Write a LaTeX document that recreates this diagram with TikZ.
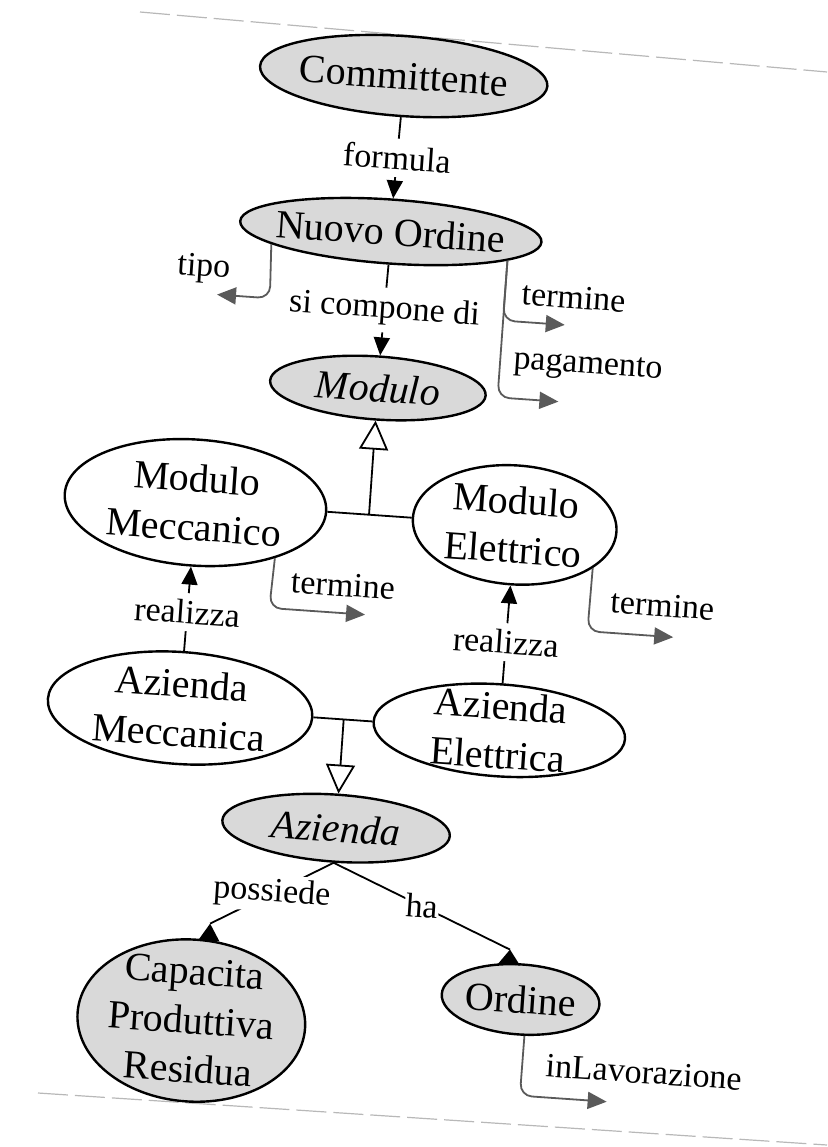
\documentclass[tikz,border=0pt]{standalone}
\usepackage{fontspec}
\setmainfont{Liberation Serif}
\usetikzlibrary{shapes.geometric, arrows.meta, calc}
\definecolor{conceptgrey}{HTML}{D9D9D9}
\definecolor{linkgrey}{HTML}{5A5A5A}
\definecolor{edgegrey}{HTML}{B8B8B8}
\begin{document}
\begin{tikzpicture}[x=1pt, y=-1pt,
  ntext/.style={font=\fontsize{40}{49}\selectfont, align=center, inner sep=0pt},
  concept/.style={ellipse, draw=black, line width=2.4pt, fill=conceptgrey, inner sep=0pt},
  plain/.style={concept, fill=white},
  dims/.style 2 args={minimum width=#1pt, minimum height=#2pt},
  ctext/.style={label={[ntext]center:#1}},
  link/.style={draw=black, line width=1.8pt},
  rel/.style={link, -{Triangle[width=16pt,length=18pt]}},
  isa/.style={link, -{Triangle[width=29pt,length=29pt,fill=white]}},
  attr/.style={draw=linkgrey, line width=1.8pt, rounded corners=12pt,
    -{Triangle[width=17pt,length=19pt,color=linkgrey]}},
  rlabel/.style={font=\fontsize{34}{40}\selectfont, fill=white, inner sep=7pt},
  alabel/.style={font=\fontsize{34}{40}\selectfont, inner sep=0pt},
  pageedge/.style={draw=edgegrey, line width=1.2pt, dash pattern=on 30pt off 7pt}
]
\useasboundingbox (0,0) rectangle (827,1147);

% edges of the sheet
\draw[pageedge] (140,12) -- (827,72);
\draw[pageedge] (38,1093) -- (827,1145);

\begin{scope}[rotate around={-4:(414,574)}, transform shape]
  % concepts
  \node[concept, dims={288}{80}, ctext={Committente}] (com) at (369,78) {};
  \node[concept, dims={302}{64}, ctext={Nuovo Ordine}] (nuovo) at (367,234) {};
  \node[concept, dims={216}{63}, ctext={\itshape Modulo}] (modulo) at (365,391) {};
  \node[plain, dims={262}{126}, ctext={Modulo\\Meccanico}] (mm) at (191,518) {};
  \node[plain, dims={204}{119}, ctext={Modulo\\Elettrico}] (me) at (511,518) {};
  \node[plain, dims={265}{112}, ctext={Azienda\\Meccanica}] (am) at (190,724) {};
  \node[plain, dims={252}{92}, ctext={Azienda\\Elettrica}] (ae) at (510,724) {};
  \node[concept, dims={228}{67}, ctext={\itshape Azienda}] (az) at (354,833) {};
  \node[concept, dims={228}{162}, ctext={Capacita\\Produttiva\\Residua}] (cpr) at (223,1035) {};
  \node[concept, dims={158}{70}, ctext={Ordine}] (ord) at (550,991) {};

  % relations
  \draw[rel] (com.south) -- node[rlabel] {formula} (nuovo.north);
  \draw[rel] (nuovo.south) -- node[rlabel] {si compone di} (modulo.north);
  \draw[rel] (am.north) -- node[rlabel, pos=0.46] {realizza} (mm.south);
  \draw[rel] (ae.north) -- node[rlabel, pos=0.42] {realizza} (me.south);

  % specialisation
  \coordinate (jmod) at (365,518);
  \draw[link] (mm.east) -- (me.west);
  \draw[isa] (jmod) -- (modulo.south);
  \coordinate (jaz) at (354,724);
  \draw[link] (am.east) -- (ae.west);
  \draw[isa] (jaz) -- (az.north);

  % possiede / ha
  \coordinate (posend) at (235,937);
  \draw[link] (az.south) -- node[rlabel, inner sep=3pt] {possiede} (posend);
  \fill[black] (posend) -- ++(-10.5,17) -- ++(21,0) -- cycle;
  \coordinate (haend) at (536,942);
  \draw[link] (az.south) -- node[rlabel, inner sep=1pt] {ha} (haend);
  \fill[black] (haend) -- ++(-11,15) -- ++(22,0) -- cycle;

  % attributes
  \node[alabel] (ltipo) at (183,284) {tipo};
  \coordinate (tipocorner) at (251,309);
  \coordinate (tipoend) at (198,309);
  \draw[attr] (nuovo.190) -- (tipocorner) -- (tipoend);

  \node[alabel] (ltermine) at (554,287) {termine};
  \coordinate (termcorner) at (485,315);
  \coordinate (termend) at (547,315);
  \draw[attr] (nuovo.350) -- (termcorner) -- (termend);

  \node[alabel] (lpagamento) at (573,356) {pagamento};
  \coordinate (pagcorner) at (485,392);
  \coordinate (pagend) at (546,392);
  \draw[attr] (nuovo.350) -- (pagcorner) -- (pagend);

  \node[alabel] (lmmtermine) at (344,590) {termine};
  \coordinate (mmcorner) at (272,618);
  \coordinate (mmend) at (368,618);
  \draw[attr] (mm.-31) -- (mmcorner) -- (mmend);

  \node[alabel] (lmetermine) at (664,588) {termine};
  \coordinate (mecorner) at (591,619);
  \coordinate (meend) at (677,619);
  \draw[attr] (me.-25) -- (mecorner) -- (meend);

  \node[alabel] (llav) at (678,1055) {inLavorazione};
  \coordinate (lavcorner) at (556,1087);
  \coordinate (lavend) at (643,1087);
  \draw[attr] (ord.-80) -- (lavcorner) -- (lavend);
\end{scope}
\end{tikzpicture}
\end{document}
